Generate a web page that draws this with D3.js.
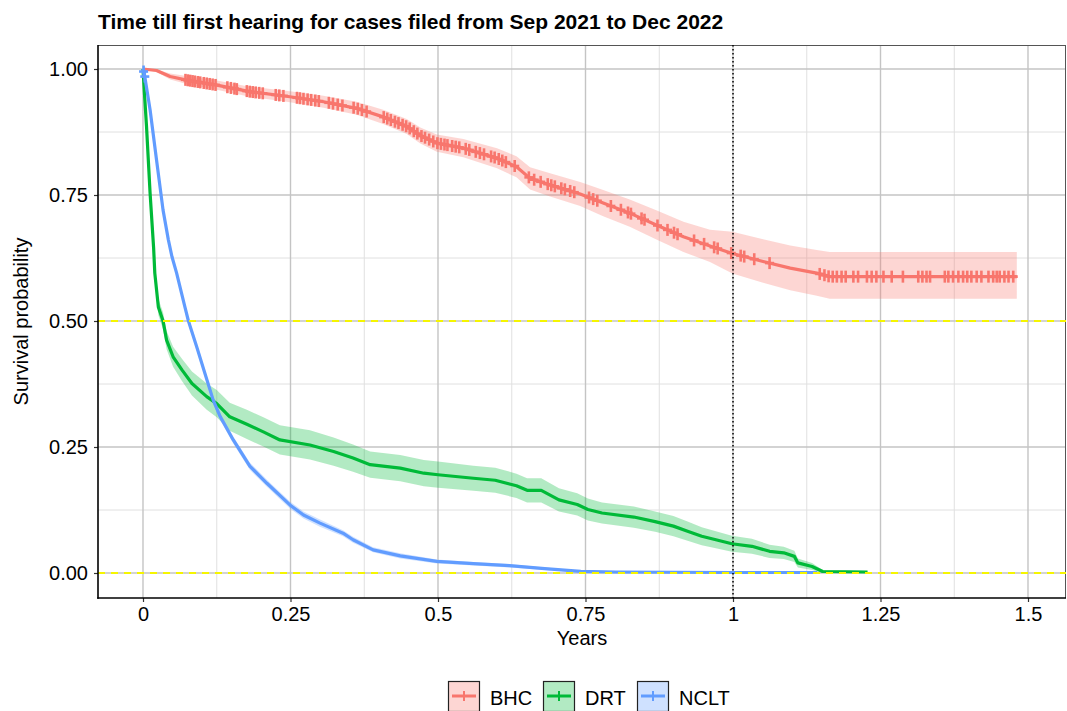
<!DOCTYPE html>
<html>
<head>
<meta charset="utf-8">
<script src="https://d3js.org/d3.v7.min.js"></script>
<style>
  body { margin: 0; background: #fff; }
  text { font-family: "Liberation Sans", Arial, Helvetica, sans-serif; fill: #000; }
</style>
</head>
<body>
<div id="chart"></div>
<script>
// ---- data ----
const groups = ["BHC", "DRT", "NCLT"];
const colors = ["#F8766D", "#00BA38", "#619CFF"];

const bhcTime  = [0, 0.023, 0.046, 0.074, 0.125, 0.181, 0.249, 0.306, 0.362, 0.407, 0.447, 0.470, 0.498, 0.543, 0.600, 0.633, 0.656, 0.690, 0.741, 0.780, 0.825, 0.871, 0.916, 0.961, 0.999, 1.051, 1.097, 1.142, 1.164, 1.481];
const bhcSurv  = [1, 0.997, 0.985, 0.978, 0.968, 0.955, 0.945, 0.935, 0.922, 0.905, 0.886, 0.868, 0.853, 0.843, 0.823, 0.806, 0.783, 0.770, 0.752, 0.734, 0.714, 0.690, 0.667, 0.649, 0.634, 0.618, 0.605, 0.595, 0.588, 0.588];
const bhcUpper = [1, 0.999, 0.991, 0.986, 0.977, 0.965, 0.956, 0.947, 0.935, 0.919, 0.901, 0.884, 0.870, 0.861, 0.843, 0.827, 0.805, 0.793, 0.776, 0.760, 0.741, 0.719, 0.697, 0.681, 0.677, 0.662, 0.650, 0.641, 0.637, 0.637];
const bhcLower = [1, 0.994, 0.979, 0.970, 0.959, 0.945, 0.934, 0.923, 0.909, 0.891, 0.871, 0.852, 0.836, 0.825, 0.803, 0.785, 0.761, 0.747, 0.728, 0.708, 0.687, 0.661, 0.637, 0.617, 0.594, 0.576, 0.561, 0.550, 0.544, 0.544];
const bhcCensor = [0.072, 0.076, 0.080, 0.084, 0.088, 0.093, 0.097, 0.103, 0.108, 0.113, 0.118, 0.123, 0.143, 0.149, 0.155, 0.159,
  0.176, 0.181, 0.186, 0.191, 0.197, 0.203, 0.225, 0.231, 0.238, 0.261, 0.266, 0.272, 0.279, 0.285, 0.292, 0.298,
  0.315, 0.322, 0.330, 0.338, 0.357, 0.364, 0.371, 0.379, 0.408, 0.414, 0.420, 0.427, 0.433, 0.440, 0.446, 0.452,
  0.459, 0.465, 0.472, 0.478, 0.485, 0.492, 0.499, 0.505, 0.511, 0.516, 0.524, 0.530, 0.536, 0.547, 0.553, 0.564,
  0.571, 0.578, 0.590, 0.596, 0.603, 0.609, 0.615, 0.630, 0.654, 0.663, 0.674, 0.686, 0.692, 0.698, 0.709, 0.715,
  0.724, 0.731, 0.756, 0.763, 0.770, 0.793, 0.810, 0.822, 0.827, 0.845, 0.850, 0.872, 0.889, 0.900, 0.906, 0.934,
  0.951, 0.968, 0.974, 0.997, 1.013, 1.019, 1.036, 1.062, 1.147, 1.155, 1.162, 1.169, 1.176, 1.184, 1.191, 1.204, 1.212,
  1.227, 1.235, 1.243, 1.255, 1.269, 1.288, 1.314, 1.321, 1.328, 1.334, 1.359, 1.365, 1.373, 1.382, 1.390, 1.397,
  1.404, 1.413, 1.421, 1.433, 1.441, 1.447, 1.452, 1.460, 1.467, 1.475];

const drtTime  = [0, 0.002, 0.006, 0.012, 0.018, 0.020, 0.026, 0.034, 0.040, 0.051, 0.066, 0.083, 0.108, 0.125, 0.147, 0.176, 0.204, 0.232, 0.283, 0.323, 0.356, 0.385, 0.436, 0.476, 0.500, 0.560, 0.597, 0.633, 0.651, 0.675, 0.705, 0.736, 0.754, 0.778, 0.832, 0.868, 0.899, 0.923, 0.947, 0.971, 0.998, 1.032, 1.062, 1.086, 1.104, 1.110, 1.134, 1.152, 1.228];
const drtSurv  = [1, 0.960, 0.885, 0.754, 0.645, 0.595, 0.528, 0.500, 0.462, 0.429, 0.403, 0.376, 0.350, 0.336, 0.310, 0.295, 0.280, 0.264, 0.254, 0.241, 0.228, 0.215, 0.208, 0.198, 0.195, 0.188, 0.184, 0.173, 0.164, 0.164, 0.145, 0.136, 0.126, 0.119, 0.111, 0.102, 0.093, 0.083, 0.073, 0.066, 0.058, 0.053, 0.043, 0.040, 0.033, 0.020, 0.013, 0.003, 0.002];
const drtUpper = [1, 0.963, 0.893, 0.766, 0.659, 0.610, 0.544, 0.517, 0.480, 0.449, 0.425, 0.400, 0.376, 0.363, 0.338, 0.324, 0.309, 0.293, 0.283, 0.269, 0.255, 0.241, 0.234, 0.224, 0.221, 0.213, 0.209, 0.197, 0.188, 0.188, 0.168, 0.158, 0.148, 0.140, 0.132, 0.122, 0.113, 0.102, 0.091, 0.083, 0.074, 0.068, 0.056, 0.052, 0.044, 0.029, 0.020, 0.006, 0.004];
const drtLower = [1, 0.957, 0.877, 0.742, 0.631, 0.580, 0.512, 0.483, 0.444, 0.409, 0.381, 0.352, 0.324, 0.309, 0.282, 0.266, 0.251, 0.235, 0.225, 0.213, 0.201, 0.189, 0.182, 0.172, 0.169, 0.163, 0.159, 0.149, 0.140, 0.140, 0.122, 0.114, 0.104, 0.098, 0.090, 0.082, 0.073, 0.064, 0.055, 0.049, 0.042, 0.038, 0.030, 0.028, 0.022, 0.011, 0.006, 0.000, 0.000];

const ncltTime  = [0, 0.003, 0.012, 0.023, 0.034, 0.043, 0.049, 0.057, 0.071, 0.077, 0.091, 0.105, 0.119, 0.131, 0.153, 0.181, 0.210, 0.249, 0.272, 0.300, 0.339, 0.356, 0.390, 0.436, 0.498, 0.560, 0.621, 0.681, 0.742, 0.802, 0.900, 1.000, 1.143];
const ncltSurv  = [1, 0.985, 0.919, 0.819, 0.720, 0.661, 0.628, 0.595, 0.528, 0.500, 0.449, 0.396, 0.343, 0.310, 0.264, 0.212, 0.178, 0.135, 0.115, 0.099, 0.079, 0.066, 0.046, 0.034, 0.023, 0.0185, 0.0145, 0.0086, 0.0033, 0.002, 0.0015, 0.001, 0.001];
const ncltUpper = [1, 0.989, 0.925, 0.826, 0.727, 0.668, 0.635, 0.602, 0.535, 0.507, 0.456, 0.403, 0.350, 0.317, 0.271, 0.219, 0.185, 0.142, 0.122, 0.106, 0.085, 0.072, 0.051, 0.039, 0.027, 0.022, 0.018, 0.011, 0.005, 0.0035, 0.0027, 0.002, 0.002];
const ncltLower = [1, 0.981, 0.913, 0.812, 0.713, 0.654, 0.621, 0.588, 0.521, 0.493, 0.442, 0.389, 0.336, 0.303, 0.257, 0.205, 0.171, 0.128, 0.108, 0.092, 0.073, 0.060, 0.041, 0.029, 0.019, 0.015, 0.011, 0.006, 0.0015, 0.0008, 0.0005, 0.0003, 0.0003];
const ncltCensor = [0.001, 0.003];

const xTicks = [0, 0.25, 0.5, 0.75, 1, 1.25, 1.5];
const xTickLabels = ["0", "0.25", "0.5", "0.75", "1", "1.25", "1.5"];
const xMinor = [0.125, 0.375, 0.625, 0.875, 1.125, 1.375];
const yTicks = [0, 0.25, 0.5, 0.75, 1];
const yMinor = [0.125, 0.375, 0.625, 0.875];
const hLines = [0, 0.5];   // median / zero reference
const vLines = [1];        // one-year marker

const titleText = "Time till first hearing for cases filed from Sep 2021 to Dec 2022";

// ---- layout ----
const W = 1067, H = 711;
const panel = {left: 98, right: 1066, top: 45, bottom: 598};
const FONT = "'Liberation Sans', Arial, Helvetica, sans-serif";

const svg = d3.select("#chart").append("svg")
  .attr("width", W).attr("height", H);

const x = d3.scaleLinear().domain([0, 1.5]).range([143, 1028]);
const y = d3.scaleLinear().domain([0, 1]).range([573, 69]);

svg.append("defs").append("clipPath").attr("id", "clip")
  .append("rect")
  .attr("x", panel.left).attr("y", panel.top)
  .attr("width", panel.right - panel.left).attr("height", panel.bottom - panel.top);

// grid
const grid = svg.append("g");
grid.selectAll(".vmin").data(xMinor).enter().append("line")
  .attr("x1", d => x(d)).attr("x2", d => x(d))
  .attr("y1", panel.top).attr("y2", panel.bottom)
  .attr("stroke", "#e0e0e0").attr("stroke-width", 1);
grid.selectAll(".hmin").data(yMinor).enter().append("line")
  .attr("y1", d => y(d)).attr("y2", d => y(d))
  .attr("x1", panel.left).attr("x2", panel.right)
  .attr("stroke", "#e0e0e0").attr("stroke-width", 1);
grid.selectAll(".vmaj").data(xTicks).enter().append("line")
  .attr("x1", d => x(d)).attr("x2", d => x(d))
  .attr("y1", panel.top).attr("y2", panel.bottom)
  .attr("stroke", "#c4c4c4").attr("stroke-width", 1.4);
grid.selectAll(".hmaj").data(yTicks).enter().append("line")
  .attr("y1", d => y(d)).attr("y2", d => y(d))
  .attr("x1", panel.left).attr("x2", panel.right)
  .attr("stroke", "#c4c4c4").attr("stroke-width", 1.4);

// panel top/right border
svg.append("line").attr("x1", panel.left).attr("x2", panel.right)
  .attr("y1", panel.top + 0.5).attr("y2", panel.top + 0.5)
  .attr("stroke", "#555").attr("stroke-width", 1);
svg.append("line").attr("x1", panel.right - 0.5).attr("x2", panel.right - 0.5)
  .attr("y1", panel.top).attr("y2", panel.bottom)
  .attr("stroke", "#555").attr("stroke-width", 1);

// curves
const series = [
  {t: bhcTime, s: bhcSurv, lo: bhcLower, hi: bhcUpper, c: bhcCensor},
  {t: drtTime, s: drtSurv, lo: drtLower, hi: drtUpper, c: []},
  {t: ncltTime, s: ncltSurv, lo: ncltLower, hi: ncltUpper, c: ncltCensor}
];

const plot = svg.append("g").attr("clip-path", "url(#clip)");

series.forEach((sr, i) => {
  const pts = sr.t.map((t, j) => ({t: t, s: sr.s[j], lo: sr.lo[j], hi: sr.hi[j]}));
  plot.append("path").datum(pts)
    .attr("d", d3.area().x(d => x(d.t)).y0(d => y(d.lo)).y1(d => y(d.hi)))
    .attr("fill", colors[i]).attr("fill-opacity", 0.3);
});

series.forEach((sr, i) => {
  const pts = sr.t.map((t, j) => ({t: t, s: sr.s[j]}));
  plot.append("path").datum(pts)
    .attr("d", d3.line().x(d => x(d.t)).y(d => y(d.s)))
    .attr("fill", "none").attr("stroke", colors[i])
    .attr("stroke-width", 3.2).attr("stroke-linejoin", "round");

  // censor marks sit on the drawn curve
  const at = tc => {
    const k = d3.bisectRight(sr.t, tc);
    if (k <= 0) return sr.s[0];
    if (k >= sr.t.length) return sr.s[sr.t.length - 1];
    const f = (tc - sr.t[k - 1]) / (sr.t[k] - sr.t[k - 1]);
    return sr.s[k - 1] + f * (sr.s[k] - sr.s[k - 1]);
  };
  const g = plot.append("g").attr("stroke", colors[i]).attr("stroke-width", 2.6);
  sr.c.forEach(tc => {
    const cx = x(tc), cy = y(at(tc));
    g.append("line").attr("x1", cx).attr("x2", cx).attr("y1", cy - 6).attr("y2", cy + 6);
    g.append("line").attr("x1", cx - 4.5).attr("x2", cx + 4.5).attr("y1", cy).attr("y2", cy);
  });
});

// reference lines
plot.selectAll(".href").data(hLines).enter().append("line")
  .attr("x1", panel.left).attr("x2", panel.right)
  .attr("y1", d => y(d)).attr("y2", d => y(d))
  .attr("stroke", "#f5f500").attr("stroke-width", 2)
  .attr("stroke-dasharray", "7,6");
plot.selectAll(".vref").data(vLines).enter().append("line")
  .attr("x1", d => x(d)).attr("x2", d => x(d))
  .attr("y1", panel.top).attr("y2", panel.bottom)
  .attr("stroke", "#000").attr("stroke-width", 1.5)
  .attr("stroke-dasharray", "1.5,2.5");

// axes
const yAxis = svg.append("g")
  .attr("transform", "translate(" + panel.left + ",0)")
  .call(d3.axisLeft(y).tickValues(yTicks).tickFormat(d3.format(".2f")).tickSize(4).tickPadding(6));
const xAxis = svg.append("g")
  .attr("transform", "translate(0," + panel.bottom + ")")
  .call(d3.axisBottom(x).tickValues(xTicks).tickFormat((d, i) => xTickLabels[i]).tickSize(4).tickPadding(5));
[xAxis, yAxis].forEach(a => {
  a.select(".domain").remove();
  a.selectAll(".tick line").attr("stroke", "#333").attr("stroke-width", 1.2);
  a.selectAll(".tick text").attr("font-size", 20).attr("fill", "#000")
    .style("font-family", FONT);
});
svg.append("line").attr("x1", panel.left).attr("x2", panel.left)
  .attr("y1", panel.top).attr("y2", panel.bottom + 0.8)
  .attr("stroke", "#000").attr("stroke-width", 1.6);
svg.append("line").attr("x1", panel.left - 0.8).attr("x2", panel.right)
  .attr("y1", panel.bottom).attr("y2", panel.bottom)
  .attr("stroke", "#000").attr("stroke-width", 1.6);

// titles
svg.append("text").attr("x", panel.left).attr("y", 29)
  .attr("font-size", 21).attr("font-weight", "bold").text(titleText);
svg.append("text").attr("x", (panel.left + panel.right) / 2).attr("y", 645)
  .attr("text-anchor", "middle").attr("font-size", 20).text("Years");
svg.append("text")
  .attr("transform", "translate(28," + ((panel.top + panel.bottom) / 2) + ") rotate(-90)")
  .attr("text-anchor", "middle").attr("font-size", 20).text("Survival probability");

// legend
const legendX = [448, 543, 637];
const lg = svg.append("g");
groups.forEach((name, i) => {
  const g = lg.append("g").attr("transform", "translate(" + legendX[i] + ",681)");
  g.append("rect").attr("x", 0.5).attr("y", 0.5).attr("width", 31).attr("height", 30)
    .attr("fill", colors[i]).attr("fill-opacity", 0.3)
    .attr("stroke", "#222").attr("stroke-width", 1.2);
  g.append("line").attr("x1", 4).attr("x2", 28).attr("y1", 15).attr("y2", 15)
    .attr("stroke", colors[i]).attr("stroke-width", 3);
  g.append("line").attr("x1", 16).attr("x2", 16).attr("y1", 10).attr("y2", 20)
    .attr("stroke", colors[i]).attr("stroke-width", 2);
  g.append("text").attr("x", 42).attr("y", 24).attr("font-size", 20).text(name);
});
</script>
</body>
</html>
